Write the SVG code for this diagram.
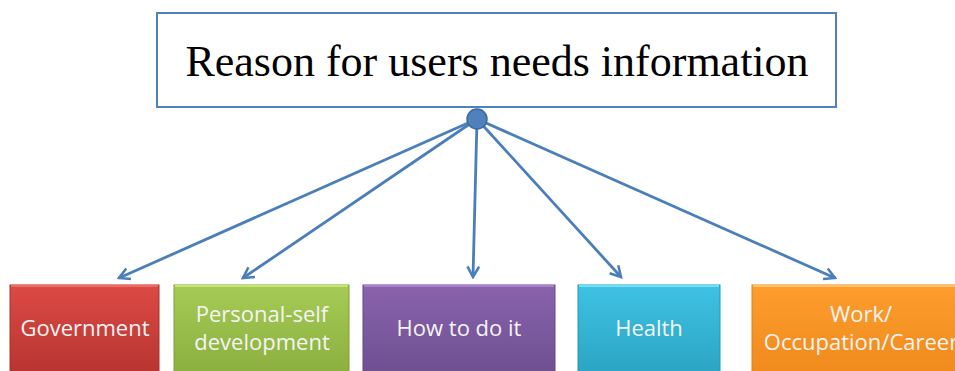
<svg xmlns="http://www.w3.org/2000/svg" width="955" height="371" viewBox="0 0 955 371">
<style>
.conn{stroke:#4a7ebb;stroke-width:2.8;fill:none;marker-end:url(#arr)}
.lbl{font-family:"Open Sans","Liberation Sans",sans-serif;font-size:22px;fill:#f4f4f4;text-anchor:middle}
.title{font-family:"Liberation Serif","Times New Roman",serif;font-size:44px;fill:#000;text-anchor:middle}
</style>
<defs>
<marker id="arr" viewBox="0 0 12 12" refX="10" refY="6" markerWidth="5" markerHeight="5" orient="auto" markerUnits="strokeWidth">
<path d="M1,1 L10,6 L1,11" fill="none" stroke="#4a7ebb" stroke-width="2.2" stroke-linejoin="miter"/>
</marker>
<linearGradient id="gRed" x1="0" y1="0" x2="0" y2="1"><stop offset="0" stop-color="#dc4a44"/><stop offset="1" stop-color="#b5332f"/></linearGradient>
<linearGradient id="gGreen" x1="0" y1="0" x2="0" y2="1"><stop offset="0" stop-color="#a6cb55"/><stop offset="1" stop-color="#8aad3e"/></linearGradient>
<linearGradient id="gPurple" x1="0" y1="0" x2="0" y2="1"><stop offset="0" stop-color="#8963ad"/><stop offset="1" stop-color="#6c4e8e"/></linearGradient>
<linearGradient id="gBlue" x1="0" y1="0" x2="0" y2="1"><stop offset="0" stop-color="#3ec2e3"/><stop offset="1" stop-color="#2ba2c1"/></linearGradient>
<linearGradient id="gOrange" x1="0" y1="0" x2="0" y2="1"><stop offset="0" stop-color="#fd9d2e"/><stop offset="1" stop-color="#ef891c"/></linearGradient>
</defs>
<rect width="955" height="371" fill="#fff"/>

<g id="title">
<rect x="157" y="13" width="679" height="94" fill="#fff" stroke="#4f81bd" stroke-width="2"/>
<text class="title" x="497" y="76">Reason for users needs information</text>
</g>

<g id="connectors">
<line class="conn" x1="477" y1="119" x2="119" y2="278"/>
<line class="conn" x1="477" y1="119" x2="243" y2="278"/>
<line class="conn" x1="477" y1="119" x2="473" y2="277"/>
<line class="conn" x1="477" y1="119" x2="621" y2="277"/>
<line class="conn" x1="477" y1="119" x2="835" y2="278"/>
</g>

<g id="hub">
<circle cx="477" cy="119" r="10" fill="#4f81bd" stroke="#3a6aa0" stroke-width="1.5"/>
</g>

<g id="government">
<rect x="10" y="285" width="149" height="95" fill="url(#gRed)" stroke="#a8302c"/>
<line x1="11" y1="286" x2="158" y2="286" stroke="#ef6a63" stroke-width="2"/>
<text class="lbl" x="85" y="336">Government</text>
</g>

<g id="personal">
<rect x="174" y="285" width="175" height="95" fill="url(#gGreen)" stroke="#7f9f39"/>
<line x1="175" y1="286" x2="348" y2="286" stroke="#c4e86e" stroke-width="2"/>
<text class="lbl" x="262" y="322">Personal-self</text>
<text class="lbl" x="262" y="350">development</text>
</g>

<g id="howto">
<rect x="363" y="285" width="192" height="95" fill="url(#gPurple)" stroke="#654786"/>
<line x1="364" y1="286" x2="554" y2="286" stroke="#a882d0" stroke-width="2"/>
<text class="lbl" x="459" y="336">How to do it</text>
</g>

<g id="health">
<rect x="578" y="285" width="142" height="95" fill="url(#gBlue)" stroke="#2896b3"/>
<line x1="579" y1="286" x2="719" y2="286" stroke="#6fe0f8" stroke-width="2"/>
<text class="lbl" x="649" y="336">Health</text>
</g>

<g id="work">
<rect x="752" y="285" width="220" height="95" fill="url(#gOrange)" stroke="#e07f16"/>
<line x1="753" y1="286" x2="971" y2="286" stroke="#ffc068" stroke-width="2"/>
<text class="lbl" x="861" y="322">Work/</text>
<text class="lbl" x="861" y="350">Occupation/Career</text>
</g>
</svg>
